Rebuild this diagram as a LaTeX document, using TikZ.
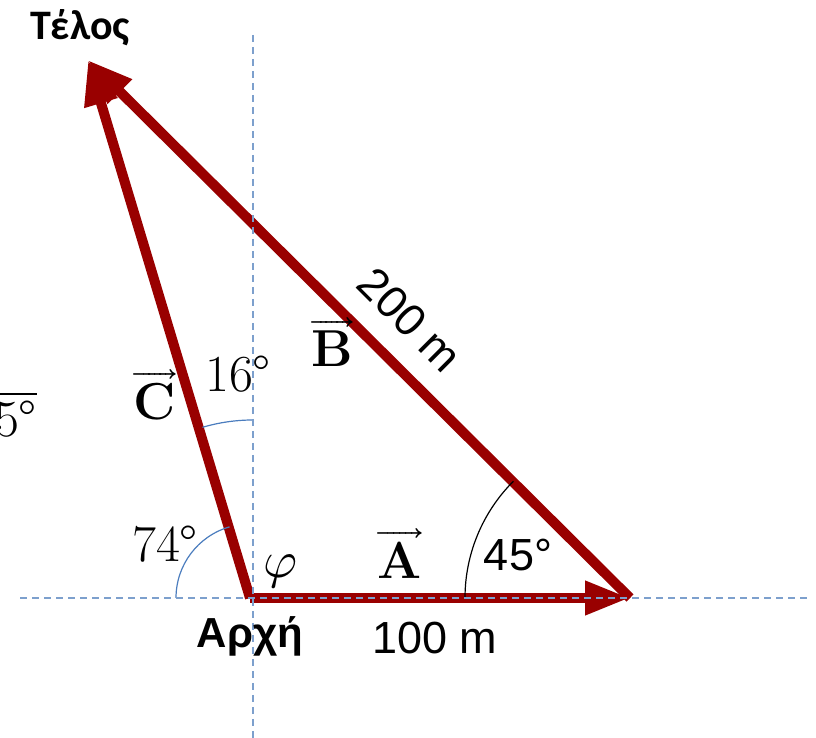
\documentclass[tikz,border=0pt]{standalone}
\usepackage{fontspec}
\usepackage{unicode-math}
\setmathfont{Latin Modern Math}
\newfontfamily\arialfont{Liberation Sans}
\newfontfamily\calibrifont{Carlito}
\usetikzlibrary{arrows.meta}
\definecolor{vecred}{RGB}{153,0,0}
\definecolor{axisblue}{RGB}{125,160,205}
\definecolor{arcblue}{RGB}{75,125,190}
\tikzset{
  vecline/.style={draw=vecred, line width=10pt,
              -{Triangle[length=45pt,width=32pt]}},
  axis/.style={draw=axisblue, line width=1.4pt, dash pattern=on 7pt off 5pt},
  angarc/.style={draw=arcblue, line width=1.2pt},
  mathlbl/.style={font=\fontsize{52}{56}\selectfont, inner sep=0pt},
  veclbl/.style={font=\fontsize{52}{56}\selectfont, inner sep=0pt},
  sanslbl/.style={font=\arialfont\fontsize{45}{50}\selectfont, inner sep=0pt},
}

\begin{document}
\begin{tikzpicture}[x=1pt, y=1pt]
  \useasboundingbox (0,0) rectangle (816,738);
  \clip (0,0) rectangle (816,738);

  % points of the walk
  \coordinate (O) at (250,140);
  \coordinate (P) at (630,140);
  \coordinate (E) at (88,678);
  % ends of the dashed axes
  \coordinate (xl) at (20,140);
  \coordinate (xr) at (810,140);
  \coordinate (yt) at (253,703);
  \coordinate (yb) at (253,0);

  % displacements
  \draw[vecline] (O) -- (P);
  \draw[vecline] (P) -- (E);
  \draw[vecline] (O) -- (E);

  % angles
  \draw[angarc] (O) ++(180:74) arc[start angle=180, end angle=106, radius=74];
  \draw[angarc] (253,140) ++(90:178) arc[start angle=90, end angle=106.5, radius=178];
  \draw[line width=1.2pt] (P) ++(180:165) arc[start angle=180, end angle=135, radius=165];

  \draw[axis] (xl) -- (xr);
  \draw[axis] (yt) -- (yb);

  % labels
  \node[font=\calibrifont\bfseries\fontsize{42}{46}\selectfont, inner sep=0pt] (telos) at (80,710) {Τέλος};
  \node[sanslbl, font=\arialfont\bfseries\fontsize{42}{46}\selectfont] (arxi) at (250,102) {Αρχή};
  \node[sanslbl] (lenA) at (435,100) {100 m};
  \node[sanslbl, rotate=-45] (lenB) at (410,418) {200 m};
  \node[sanslbl] (angB) at (518,183) {45°};
  \node[veclbl] (vecA) at (400,184) {$\overrightarrow{\mathbf{A}}$};
  \node[veclbl] (vecB) at (332,396) {$\overrightarrow{\mathbf{B}}$};
  \node[veclbl] (vecC) at (155,343) {$\overrightarrow{\mathbf{C}}$};
  \node[mathlbl] (angC) at (238,364) {16°};
  \node[mathlbl] (angX) at (165,194) {74°};
  \node[mathlbl] (phi) at (281,166) {$\varphi$};
  \node[mathlbl, anchor=east] (cut) at (37,324) {$\overline{\mbox{\phantom{4}5°}}$};
\end{tikzpicture}
\end{document}
